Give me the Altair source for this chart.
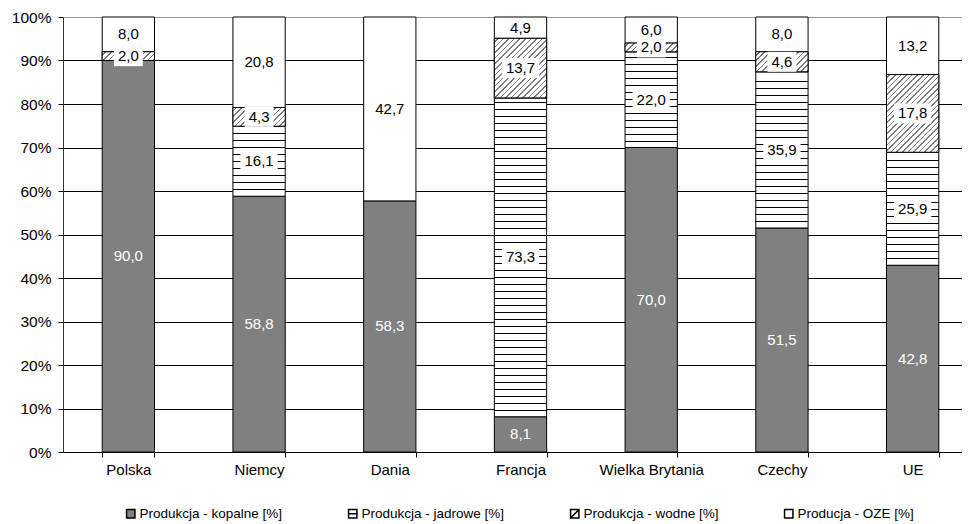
import altair as alt
import pandas as pd

# ---------------- data ----------------
countries = ["Polska", "Niemcy", "Dania", "Francja", "Wielka Brytania", "Czechy", "UE"]
series = ["Produkcja - kopalne [%]", "Produkcja - jadrowe [%]",
          "Produkcja - wodne [%]", "Producja - OZE [%]"]
kopalne = [90.0, 58.8, 58.3, 8.1, 70.0, 51.5, 42.8]
jadrowe = [0.0, 16.1, 0.0, 73.3, 22.0, 35.9, 25.9]
wodne = [2.0, 4.3, 0.0, 13.7, 2.0, 4.6, 17.8]
oze = [8.0, 20.8, 42.7, 4.9, 6.0, 8.0, 13.2]
y_ticks = [0, 0.1, 0.2, 0.3, 0.4, 0.5, 0.6, 0.7, 0.8, 0.9, 1.0]

# ---------------- layout / style ----------------
FONT = "Liberation Sans, Arial, sans-serif"
PLOT_W = 899          # visible plot width
RANGE_W = 915         # band range (reference plot is cropped at the right)
PLOT_H = 435
STEP = RANGE_W / len(countries)
BAR_W = STEP * 0.4
LBL_FS = 15

# ---------------- derived tables ----------------
values = [kopalne, jadrowe, wodne, oze]
seg_rows = []
for ci, c in enumerate(countries):
    total = sum(v[ci] for v in values)
    cum = 0.0
    for si, s in enumerate(series):
        v = values[si][ci]
        if v <= 0:
            continue
        start = cum / total
        cum += v
        end = cum / total
        lab = f"{v:.1f}".replace(".", ",")
        seg_rows.append(dict(country=c, series=s, sidx=si, value=v,
                             start=start, end=end, mid=(start + end) / 2,
                             label=lab))
seg = pd.DataFrame(seg_rows)
seg["tcol"] = ["white" if i == 0 else "black" for i in seg["sidx"]]

# label boxes (white background behind labels on patterned segments)
box = seg[seg["sidx"].isin([1, 2])].copy()
half = 10.0 / PLOT_H
box["blo"] = box["mid"] - half
box["bhi"] = box["mid"] + half
box["bw"] = [sum(4.2 if ch == "," else 8.35 for ch in l) + 8 for l in box["label"]]

# horizontal stripes for "jadrowe" (snapped to pixel centres for crisp 1px lines)
STRIPE = 7.0 / PLOT_H
lines = []
for _, r in seg[seg["sidx"] == 1].iterrows():
    y = r["start"] + STRIPE
    while y < r["end"] - STRIPE * 0.4:
        px = round((1 - y) * PLOT_H) + 0.5
        lines.append(dict(country=r["country"], yl=1 - px / PLOT_H))
        y += STRIPE
lines = pd.DataFrame(lines)


def hatch(h_px, w_px=BAR_W, period=5.6, lw=1.7, gray="#7f7f7f"):
    tot = w_px + h_px
    k = tot / (w_px * w_px + h_px * h_px)
    stops = [{"offset": 0, "color": "white"}]
    p = period * 0.5
    while p < tot:
        a = p / tot
        b = min((p + lw) / tot, 1.0)
        stops += [{"offset": a, "color": "white"}, {"offset": a, "color": gray},
                  {"offset": b, "color": gray}, {"offset": b, "color": "white"}]
        p += period
    stops.append({"offset": 1, "color": "white"})
    return {"gradient": "linear", "x1": 0, "y1": 0, "x2": k * w_px,
            "y2": k * h_px, "stops": stops}


# ---------------- encodings ----------------
xscale = alt.Scale(domain=countries, range=[0, RANGE_W], paddingInner=0.6, paddingOuter=0.3)
xaxis = alt.Axis(title=None, labelAngle=0, tickBand="extent", tickSize=5,
                 tickColor="black", domainColor="black", labelFont=FONT,
                 labelFontSize=15, labelColor="black", labelPadding=5, grid=False)
X = alt.X("country:N", sort=countries, scale=xscale, axis=xaxis)

yscale = alt.Scale(domain=[0, 1], nice=False, zero=True)
yaxis = alt.Axis(title=None, values=y_ticks, format=".0%", grid=True,
                 gridColor={"condition": {"test": "datum.value >= 1", "value": "#9a9a9a"},
                            "value": "black"},
                 gridWidth=1, domainColor="#333333", tickColor="black", tickSize=5,
                 labelFont=FONT, labelFontSize=15.5, labelColor="black", labelPadding=7)


def Y(field):
    return alt.Y(field, scale=yscale, axis=yaxis)


SQ = "M-1,-1H1V1H-1Z"
SQ_H = "M-1,-1H1V1H-1Z M-1,0H1"
SQ_D = "M-1,-1H1V1H-1Z M-1,1L1,-1"

legend = alt.Legend(title=None, orient="none", legendX=61, legendY=490,
                    direction="horizontal", columns=4, columnPadding=62,
                    labelFont=FONT, labelFontSize=13.5, labelColor="black",
                    symbolSize=70, symbolOpacity=1, labelOffset=2)
fill_scale = alt.Scale(domain=series, range=["#808080", "#ffffff", "#ffffff", "#ffffff"])

# ---------------- layers ----------------
legend_pts = alt.Chart(seg).mark_point(filled=True, size=4, stroke="black",
                                        strokeWidth=1.3, opacity=1).encode(
    x=X, y=Y("mid:Q"),
    fill=alt.Fill("series:N", sort=series, scale=fill_scale, legend=legend),
    shape=alt.Shape("series:N", sort=series,
                    scale=alt.Scale(domain=series, range=[SQ, SQ_H, SQ_D, SQ]),
                    legend=legend))

bars = alt.Chart(seg).mark_bar(stroke="black", strokeWidth=1).encode(
    x=X, y=Y("start:Q"), y2="end:Q",
    fill=alt.Fill("series:N", sort=series, scale=fill_scale, legend=None))

stripes = alt.Chart(lines).mark_bar(stroke="black", strokeWidth=1, fill="black").encode(
    x=X, y=Y("yl:Q"), y2="yl:Q")

hatch_layers = []
for _, r in seg[seg["sidx"] == 2].iterrows():
    h_px = (r["end"] - r["start"]) * PLOT_H
    hatch_layers.append(
        alt.Chart(seg[(seg["country"] == r["country"]) & (seg["sidx"] == 2)])
        .mark_bar(stroke="black", strokeWidth=1, fill=hatch(h_px))
        .encode(x=X, y=Y("start:Q"), y2="end:Q"))

boxes = alt.Chart(box).mark_bar(fill="white").encode(
    x=X, y=Y("blo:Q"), y2="bhi:Q", size=alt.Size("bw:Q", scale=None, legend=None))

texts = alt.Chart(seg).mark_text(font=FONT, fontSize=LBL_FS, baseline="middle").encode(
    x=X, y=Y("mid:Q"), text="label:N", color=alt.Color("tcol:N", scale=None, legend=None))

chart = alt.layer(legend_pts, bars, stripes, *hatch_layers, boxes, texts).resolve_scale(
    fill="independent", shape="independent"
).properties(
    width=PLOT_W, height=PLOT_H,
    autosize=alt.AutoSizeParams(type="none"),
    padding={"left": 55, "top": 9, "right": 0, "bottom": 72},
).configure_view(stroke=None).configure(background="white")

chart.save("out.html", embed_options={"renderer": "svg", "actions": False})
